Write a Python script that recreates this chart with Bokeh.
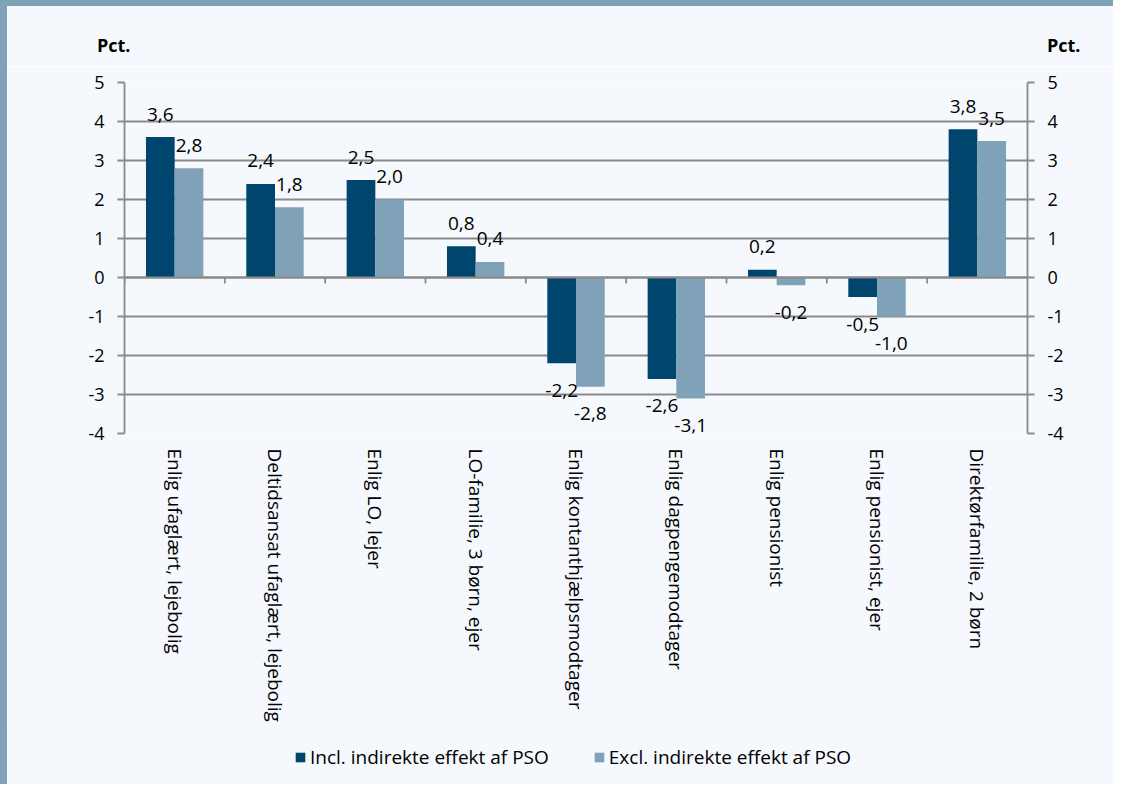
import math
from bokeh.plotting import figure
from bokeh.models import (ColumnDataSource, Range1d, LinearAxis, FixedTicker,
                          LabelSet, Legend, LegendItem, Span, Spacer, Div)
from bokeh.layouts import column, row
from bokeh.core.properties import value
from bokeh.embed import file_html
from bokeh.resources import INLINE

categories = ["Enlig ufaglært, lejebolig", "Deltidsansat ufaglært, lejebolig",
              "Enlig LO, lejer", "LO-familie, 3 børn, ejer", "Enlig kontanthjælpsmodtager",
              "Enlig dagpengemodtager", "Enlig pensionist", "Enlig pensionist, ejer",
              "Direktørfamilie, 2 børn"]
incl = [3.6, 2.4, 2.5, 0.8, -2.2, -2.6, 0.2, -0.5, 3.8]
excl = [2.8, 1.8, 2.0, 0.4, -2.8, -3.1, -0.2, -1.0, 3.5]
series_names = ["Incl. indirekte effekt af PSO", "Excl. indirekte effekt af PSO"]
y_ticks = [-4, -3, -2, -1, 0, 1, 2, 3, 4, 5]
unit_label = "Pct."

DARK = "#00456E"
LIGHT = "#7FA2B8"
BAND = "#7FA2B8"
GRID = "#8A8A8A"
BG = "#F5F9FD"
FONT = "Open Sans"

TOTAL_W, TOTAL_H = 1113, 784
BAND_W, BAND_H = 7, 6
HEAD_H = 60
FOOT_H = 54
MAIN_W = TOTAL_W - BAND_W
MAIN_H = TOTAL_H - BAND_H - HEAD_H - FOOT_H
FRAME_TOP, FRAME_H = 82, 351
FRAME_L, FRAME_R = 124, 1027

n = len(categories)
centers = [i + 0.5 for i in range(n)]
bw = 0.286
px_per_unit = FRAME_H / (max(y_ticks) - min(y_ticks))

def fmt(v):
    return f"{v:.1f}".replace(".", ",")

def label_y(v):
    return v + 23 / px_per_unit if v > 0 else v - 27 / px_per_unit

src = ColumnDataSource(dict(
    x_incl=[c - bw / 2 for c in centers],
    x_excl=[c + bw / 2 for c in centers],
    incl=incl, excl=excl,
    incl_txt=[fmt(v) for v in incl], excl_txt=[fmt(v) for v in excl],
    incl_ly=[label_y(v) for v in incl], excl_ly=[label_y(v) for v in excl],
    bound=[float(i) for i in range(n)],
    zero=[0.0] * n,
    tick_end=[-6 / px_per_unit] * n,
))

# ---------------- header with unit labels (HTML) ----------------
span_style = ("position:absolute;top:27px;line-height:24px;white-space:nowrap;")
head_html = (
    f'<div style="position:relative;width:{MAIN_W}px;height:{HEAD_H}px;'
    f"font-family:'{FONT}';font-weight:bold;font-size:18px;color:#000000;\">"
    f'<span style="{span_style}left:{97 - BAND_W}px">{unit_label}</span>'
    f'<span style="{span_style}left:{1047 - BAND_W}px">{unit_label}</span>'
    '</div>'
)
head = Div(text=head_html, width=MAIN_W, height=HEAD_H,
           styles={"background-color": BG, "margin": "0", "padding": "0"})

# ---------------- main chart ----------------
top_border = FRAME_TOP - (BAND_H + HEAD_H)
p = figure(width=MAIN_W, height=MAIN_H, output_backend="svg", toolbar_location=None,
           x_range=Range1d(0, n), y_range=Range1d(min(y_ticks), max(y_ticks)),
           min_border_left=FRAME_L - BAND_W, min_border_right=TOTAL_W - FRAME_R,
           min_border_top=top_border, min_border_bottom=MAIN_H - top_border - FRAME_H,
           background_fill_color=BG, border_fill_color=BG, outline_line_color=None)

p.xgrid.visible = False
p.ygrid.ticker = FixedTicker(ticks=y_ticks)
p.ygrid.grid_line_color = GRID
p.ygrid.grid_line_width = 1.8

ya = p.yaxis[0]
right = LinearAxis()
p.add_layout(right, "right")
for ax in [ya, right]:
    ax.ticker = FixedTicker(ticks=y_ticks)
    ax.major_label_overrides = {t: str(t) for t in y_ticks}
    ax.axis_line_color = GRID
    ax.axis_line_width = 1.8
    ax.major_tick_line_color = GRID
    ax.major_tick_line_width = 1.8
    ax.major_tick_out = 7
    ax.major_tick_in = 0
    ax.minor_tick_line_color = None
    ax.major_label_text_font = FONT
    ax.major_label_text_font_size = "18px"
    ax.major_label_text_color = "#000000"
    ax.major_label_standoff = 13

xa = p.xaxis[0]
xa.ticker = FixedTicker(ticks=centers)
xa.major_label_overrides = {c: cat for c, cat in zip(centers, categories)}
xa.major_label_orientation = -math.pi / 2
xa.axis_line_color = None
xa.major_tick_line_color = None
xa.minor_tick_line_color = None
xa.major_label_text_font = FONT
xa.major_label_text_font_size = "19px"
xa.major_label_text_color = "#000000"
xa.major_label_standoff = 9

p.vbar(x="x_incl", top="incl", bottom=0, width=bw, source=src,
       fill_color=DARK, line_color=None)
p.vbar(x="x_excl", top="excl", bottom=0, width=bw, source=src,
       fill_color=LIGHT, line_color=None)

p.add_layout(Span(location=0, dimension="width", line_color=GRID, line_width=2.2))
p.segment(x0="bound", y0="zero", x1="bound", y1="tick_end", source=src,
          line_color=GRID, line_width=1.8)

for xf, yf, tf in [("x_incl", "incl_ly", "incl_txt"), ("x_excl", "excl_ly", "excl_txt")]:
    p.add_layout(LabelSet(x=xf, y=yf, text=tf, source=src, text_align="center",
                          text_baseline="middle", text_font=value(FONT),
                          text_font_size=value("19px"), text_color=value("#000000")))

# ---------------- footer with legend (frame aligned with main frame) ----------------
foot = figure(width=MAIN_W, height=FOOT_H, output_backend="svg", toolbar_location=None,
              x_range=Range1d(0, 1), y_range=Range1d(0, 1),
              min_border=0, min_border_left=FRAME_L - BAND_W, min_border_right=TOTAL_W - FRAME_R,
              background_fill_alpha=0, border_fill_alpha=0, outline_line_color=None,
              styles={"background-color": BG})
foot.axis.visible = False
foot.grid.visible = False
# legend-only renderers, kept entirely outside the footer's visible range
hidden = ColumnDataSource(dict(x=[0.5], top=[-5.0], bottom=[-6.0]))
l1 = foot.vbar(x="x", top="top", bottom="bottom", width=0.1, source=hidden,
               fill_color=DARK, line_color=None)
l2 = foot.vbar(x="x", top="top", bottom="bottom", width=0.1, source=hidden,
               fill_color=LIGHT, line_color=None)
legend = Legend(items=[LegendItem(label=series_names[0], renderers=[l1]),
                       LegendItem(label=series_names[1], renderers=[l2])],
                location=(294 - FRAME_L, 14), orientation="horizontal",
                glyph_width=12, glyph_height=12, label_standoff=4, spacing=44,
                padding=0, margin=0, label_height=20,
                label_text_font=FONT, label_text_font_size="19px",
                label_text_color="#000000",
                background_fill_alpha=0, border_line_color=None)
foot.add_layout(legend, "center")

left_band = Spacer(width=BAND_W, height=TOTAL_H, styles={"background-color": BAND})
top_band = Spacer(width=MAIN_W, height=BAND_H, styles={"background-color": BAND})
layout = row(left_band, column(top_band, head, p, foot))

open("out.html", "w").write(file_html(layout, INLINE))
